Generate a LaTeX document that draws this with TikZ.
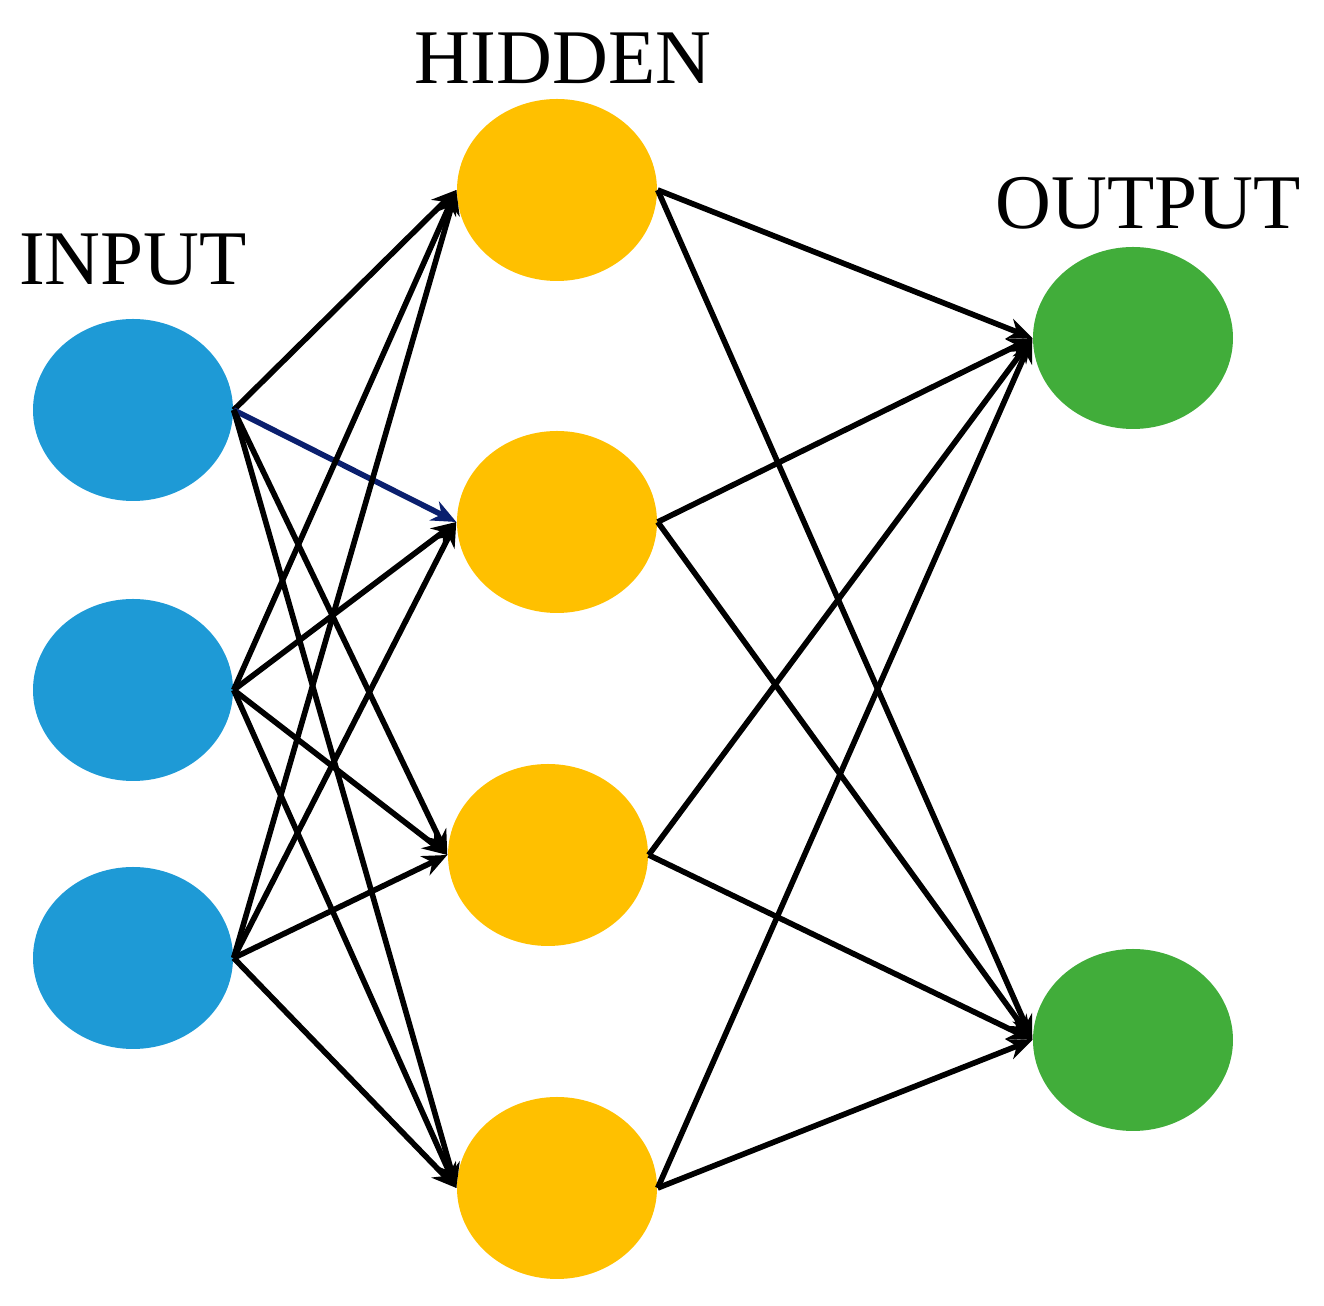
\documentclass[tikz,border=0pt]{standalone}
\usepackage{fontspec}
\setmainfont{Liberation Serif}
\usetikzlibrary{shapes.geometric,arrows.meta}
\definecolor{inblue}{HTML}{1E9AD6}
\definecolor{hidyellow}{HTML}{FFC000}
\definecolor{outgreen}{HTML}{41AD3A}
\definecolor{navy}{HTML}{0A1F6E}
\tikzset{
 neuron/.style={ellipse,minimum width=2cm,minimum height=1.82cm,inner sep=0pt},
 link/.style={-{Stealth[length=7pt,width=6pt]},line width=1.6pt},
 title/.style={font=\fontsize{22}{26}\selectfont}
}
\begin{document}
\begin{tikzpicture}
 \useasboundingbox (0,0) rectangle (13.24,-13.06);
 \node[neuron,fill=inblue] (i1) at (1.33,-4.10) {};
 \node[neuron,fill=inblue] (i2) at (1.33,-6.90) {};
 \node[neuron,fill=inblue] (i3) at (1.33,-9.58) {};
 \node[neuron,fill=hidyellow] (h1) at (5.57,-1.90) {};
 \node[neuron,fill=hidyellow] (h2) at (5.57,-5.22) {};
 \node[neuron,fill=hidyellow] (h3) at (5.48,-8.55) {};
 \node[neuron,fill=hidyellow] (h4) at (5.57,-11.88) {};
 \node[neuron,fill=outgreen] (o1) at (11.33,-3.38) {};
 \node[neuron,fill=outgreen] (o2) at (11.33,-10.40) {};
 \node[title] (tin) at (1.33,-2.60) {INPUT};
 \node[title] (thid) at (5.63,-0.58) {HIDDEN};
 \node[title] (tout) at (11.48,-2.03) {OUTPUT};
 % input to hidden
 \draw[link] (i1.east) -- (h1.west);
 \draw[link,navy] (i1.east) -- (h2.west);
 \draw[link] (i1.east) -- (h3.west);
 \draw[link] (i1.east) -- (h4.west);
 \draw[link] (i2.east) -- (h1.west);
 \draw[link] (i2.east) -- (h2.west);
 \draw[link] (i2.east) -- (h3.west);
 \draw[link] (i2.east) -- (h4.west);
 \draw[link] (i3.east) -- (h1.west);
 \draw[link] (i3.east) -- (h2.west);
 \draw[link] (i3.east) -- (h3.west);
 \draw[link] (i3.east) -- (h4.west);
 % hidden to output
 \draw[link] (h1.east) -- (o1.west);
 \draw[link] (h1.east) -- (o2.west);
 \draw[link] (h2.east) -- (o1.west);
 \draw[link] (h2.east) -- (o2.west);
 \draw[link] (h3.east) -- (o1.west);
 \draw[link] (h3.east) -- (o2.west);
 \draw[link] (h4.east) -- (o1.west);
 \draw[link] (h4.east) -- (o2.west);
\end{tikzpicture}
\end{document}
